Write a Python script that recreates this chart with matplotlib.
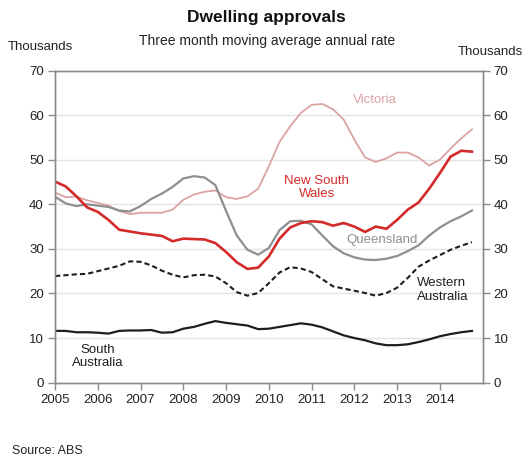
import matplotlib.pyplot as plt
import numpy as np

plt.rcParams['font.family'] = ['Liberation Sans', 'DejaVu Sans']

# quarterly readings, 2005 Q1 .. 2014 Q4 (thousands, annual rate)
quarters = np.arange(2005, 2015, 0.25)

victoria = [42.6, 41.6, 41.7, 40.9, 40.3, 39.7, 38.5, 37.8, 38.1, 38.1,
            38.1, 38.8, 41.0, 42.2, 42.8, 43.1, 41.6, 41.2, 41.8, 43.5,
            48.5, 54.0, 57.5, 60.5, 62.3, 62.5, 61.3, 59.0, 54.5, 50.5,
            49.5, 50.3, 51.6, 51.6, 50.5, 48.7, 50.0, 52.5, 54.8, 56.8]
nsw = [45.1, 44.0, 41.8, 39.3, 38.3, 36.5, 34.3, 33.9, 33.5, 33.2,
       32.9, 31.7, 32.3, 32.2, 32.1, 31.3, 29.3, 27.0, 25.5, 25.8,
       28.3, 32.3, 34.8, 35.8, 36.2, 36.0, 35.2, 35.8, 35.0, 33.8,
       35.0, 34.5, 36.5, 38.8, 40.4, 43.5, 47.0, 50.7, 52.0, 51.8]
queensland = [41.7, 40.2, 39.6, 40.0, 39.7, 39.4, 38.6, 38.4, 39.6, 41.2,
              42.4, 43.9, 45.8, 46.3, 46.0, 44.3, 38.5, 33.0, 29.8, 28.7,
              30.2, 34.2, 36.2, 36.3, 35.5, 33.0, 30.6, 29.0, 28.1, 27.6,
              27.5, 27.8, 28.4, 29.5, 30.8, 33.0, 34.8, 36.2, 37.3, 38.6]
western_aus = [23.9, 24.1, 24.3, 24.4, 25.0, 25.6, 26.2, 27.2, 27.1, 26.3,
               25.1, 24.2, 23.6, 24.1, 24.2, 23.8, 22.3, 20.3, 19.5, 20.1,
               22.3, 24.7, 25.9, 25.6, 24.8, 23.2, 21.6, 21.1, 20.6, 20.1,
               19.5, 20.1, 21.3, 23.5, 26.0, 27.4, 28.6, 29.8, 30.7, 31.5]
south_aus = [11.6, 11.6, 11.3, 11.3, 11.2, 11.0, 11.6, 11.7, 11.7, 11.8,
             11.2, 11.3, 12.1, 12.5, 13.2, 13.8, 13.4, 13.1, 12.8, 12.0,
             12.1, 12.5, 12.9, 13.3, 13.0, 12.4, 11.5, 10.6, 10.0, 9.5,
             8.8, 8.4, 8.4, 8.6, 9.1, 9.7, 10.4, 10.9, 11.3, 11.6]

years = list(range(2005, 2015))
yticks = list(range(0, 71, 10))

fig = plt.figure(figsize=(5.26, 4.61), dpi=100)
ax = fig.add_axes([0.1046, 0.170, 0.813, 0.677])

grid_c = '#e4e4e4'
axis_c = '#8a8a8a'
for v in yticks[1:-1]:
    ax.axhline(v, color=grid_c, lw=1.0, zorder=0)

ax.plot(quarters, victoria, color='#dca3a3', lw=1.3, solid_joinstyle='round')
ax.plot(quarters, queensland, color='#8f8f8f', lw=1.6, solid_joinstyle='round')
ax.plot(quarters, western_aus, color='#1e1e1e', lw=1.5, ls=(0, (2.5, 1.5)))
ax.plot(quarters, south_aus, color='#1e1e1e', lw=1.6, solid_joinstyle='round')
ax.plot(quarters, nsw, color='#d42a2a', lw=1.9, solid_joinstyle='round')

ax.set_xlim(2005, 2015)
ax.set_ylim(0, 70)
ax.set_xticks(years)
ax.set_xticklabels([str(y) for y in years])
ax.set_yticks(yticks)

ax2 = ax.twinx()
ax2.set_ylim(0, 70)
ax2.set_yticks(yticks)

for a in (ax, ax2):
    for s in a.spines.values():
        s.set_color(axis_c)
        s.set_linewidth(1.0)
    a.tick_params(colors=axis_c, labelcolor='#222222', labelsize=9.5,
                  length=5, width=1.0, direction='out', pad=3)

fs = 9.5
ax.text(2012.48, 63.4, 'Victoria', color='#dca3a3', fontsize=fs, ha='center', va='center')
ax.text(2011.12, 43.8, 'New South\nWales', color='#d42a2a', fontsize=fs,
        ha='center', va='center', linespacing=1.15)
ax.text(2012.65, 32.1, 'Queensland', color='#8f8f8f', fontsize=fs, ha='center', va='center')
ax.text(2013.47, 20.8, 'Western\nAustralia', color='#1e1e1e', fontsize=fs,
        ha='left', va='center', linespacing=1.15)
ax.text(2006.0, 5.8, 'South\nAustralia', color='#1e1e1e', fontsize=fs,
        ha='center', va='center', linespacing=1.15)

fig.text(0.507, 0.962, 'Dwelling approvals', fontsize=12.5, fontweight='bold',
         ha='center', va='center', color='#111111')
fig.text(0.507, 0.912, 'Three month moving average annual rate', fontsize=10,
         ha='center', va='center', color='#222222')
fig.text(0.015, 0.897, 'Thousands', fontsize=9.5, ha='left', va='center', color='#222222')
fig.text(0.995, 0.888, 'Thousands', fontsize=9.5, ha='right', va='center', color='#222222')
fig.text(0.022, 0.022, 'Source: ABS', fontsize=9, ha='left', va='center', color='#222222')

fig.savefig('out.png', dpi=100)
